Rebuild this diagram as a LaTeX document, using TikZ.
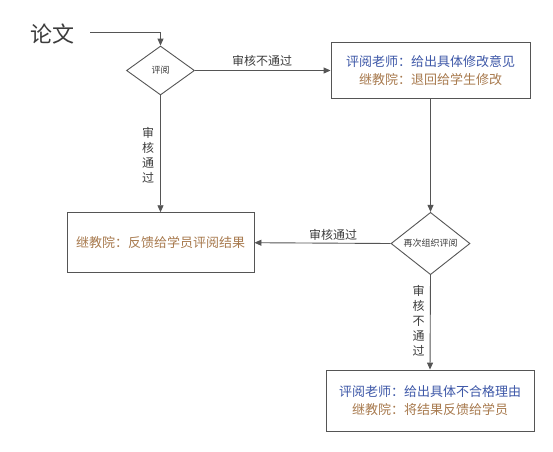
\documentclass[tikz,border=0pt]{standalone}
\usepackage{fontspec}
\setmainfont{Noto Sans CJK SC}
\usetikzlibrary{shapes.geometric,arrows.meta}
\definecolor{cblue}{RGB}{62,88,168}
\definecolor{cbrown}{RGB}{168,122,78}
\definecolor{cline}{RGB}{85,85,85}
\definecolor{ctext}{RGB}{60,60,60}
\tikzset{
  flowbox/.style={draw=cline, line width=0.9pt, rectangle, inner sep=0pt, font=\fontsize{13}{18}\selectfont, align=center},
  decide/.style={draw=cline, line width=0.9pt, diamond, inner sep=0pt, text=ctext},
  conn/.style={draw=cline, line width=0.9pt, -{Triangle[length=7pt,width=6pt]}},
  lbl/.style={text=ctext, font=\fontsize{12}{15}\selectfont, inner sep=0pt},
  vlbl/.style={text=ctext, font=\fontsize{12}{15}\selectfont, inner sep=0pt, align=center},
}
\begin{document}
\begin{tikzpicture}[x=1pt,y=-1pt]
\useasboundingbox (0,0) rectangle (553,451);
\fill[white] (0,0) rectangle (553,451);

\node[text=ctext, font=\fontsize{22}{24}\selectfont, inner sep=0pt] (lw) at (52.5,34) {论文};
\node[decide, minimum width=68pt, minimum height=49pt, font=\fontsize{9}{10}\selectfont] (d1) at (160.5,70.5) {评阅};
\node[flowbox, minimum width=199pt, minimum height=56pt] (b1) at (430.5,70.5)
  {\textcolor{cblue}{评阅老师：给出具体修改意见}\\\textcolor{cbrown}{继教院：退回给学生修改}};
\node[decide, minimum width=79pt, minimum height=57pt, font=\fontsize{9}{10}\selectfont] (d2) at (430.5,243.5) {再次组织评阅};
\node[flowbox, minimum width=187pt, minimum height=60pt] (b2) at (160.5,242.7)
  {\textcolor{cbrown}{继教院：反馈给学员评阅结果}};
\node[flowbox, minimum width=208pt, minimum height=61pt] (b3) at (430,400.5)
  {\textcolor{cblue}{评阅老师：给出具体不合格理由}\\\textcolor{cbrown}{继教院：将结果反馈给学员}};

\coordinate (s0) at (90,32.5);
\draw[conn] (s0) -| (d1.north);
\draw[conn] (d1.east) -- (b1.west);
\draw[conn] (d1.south) -- (b2.north);
\draw[conn] (b1.south) -- (d2.north);
\draw[conn] (d2.west) -- (b2.east);
\draw[conn] (d2.south) -- (b3.north);

\node[lbl] (l1) at (262,61) {审核不通过};
\node[lbl] (l2) at (333,234.5) {审核通过};
\node[vlbl] (l3) at (148,155) {审\\核\\通\\过};
\node[vlbl] (l4) at (418.5,321) {审\\核\\不\\通\\过};
\end{tikzpicture}
\end{document}
